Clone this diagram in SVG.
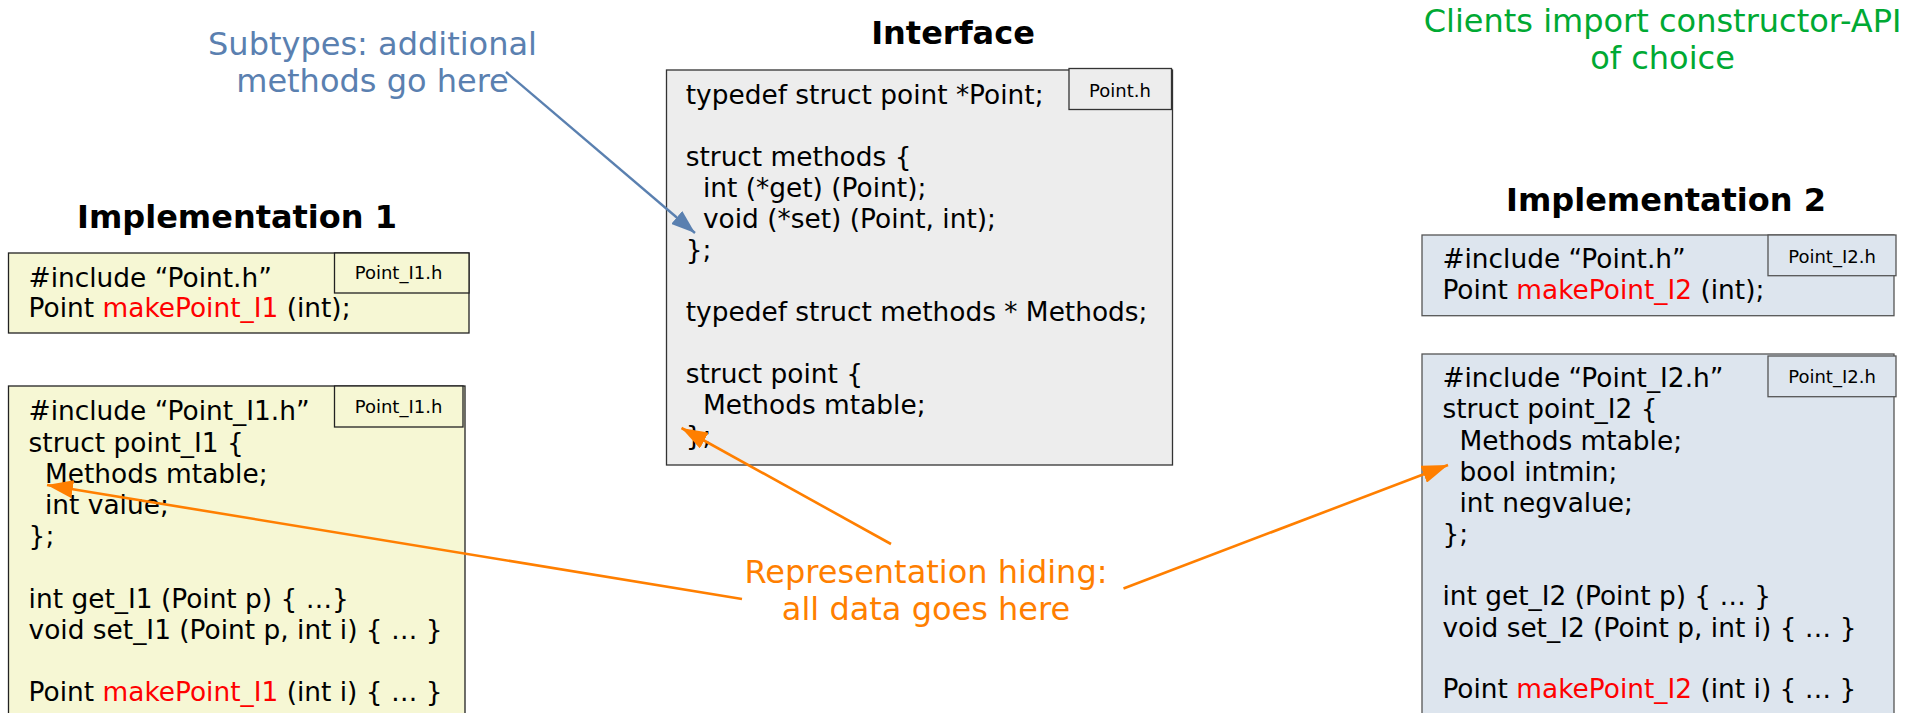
<svg xmlns="http://www.w3.org/2000/svg" width="1919" height="713" viewBox="0 0 1919 713">
<style>
.code{font-family:"DejaVu Sans","Liberation Sans",sans-serif;font-size:26.4px;fill:#000}
.tab{font-family:"DejaVu Sans","Liberation Sans",sans-serif;font-size:18px;fill:#000;text-anchor:middle}
.title{font-family:"DejaVu Sans","Liberation Sans",sans-serif;font-size:32px;font-weight:bold;fill:#000;text-anchor:middle}
.note{font-family:"DejaVu Sans","Liberation Sans",sans-serif;font-size:32px;text-anchor:middle}
.red{fill:#ff0000}
.yel{fill:#f6f7d4;stroke:#222;stroke-width:1.3}
.gry{fill:#ededed;stroke:#333;stroke-width:1.3}
.blu{fill:#dde5ee;stroke:#555;stroke-width:1.3}
</style>
<defs>
<marker id="ho" markerUnits="userSpaceOnUse" markerWidth="26" markerHeight="18" refX="26" refY="9" orient="auto"><path d="M0,0 L26,9 L0,18 z" fill="#ff7f00"/></marker>
<marker id="hb" markerUnits="userSpaceOnUse" markerWidth="24" markerHeight="17" refX="24" refY="8.5" orient="auto"><path d="M0,0 L24,8.5 L0,17 z" fill="#5a80b0"/></marker>
</defs>
<rect width="1919" height="713" fill="#fff"/>

<g id="labels">
<text class="note" fill="#5a80b0"><tspan x="372.5" y="55">Subtypes: additional</tspan><tspan x="372.5" y="91.7">methods go here</tspan></text>
<text class="note" fill="#00a933"><tspan x="1662.5" y="31.7">Clients import constructor-API</tspan><tspan x="1662.5" y="69">of choice</tspan></text>
<text class="note" fill="#ff7f00"><tspan x="926" y="582.7">Representation hiding:</tspan><tspan x="926" y="620">all data goes here</tspan></text>
<text class="title" x="953" y="44">Interface</text>
<text class="title" x="237" y="227.7">Implementation 1</text>
<text class="title" x="1666" y="210.7">Implementation 2</text>
</g>

<g id="interface">
<rect class="gry" x="666.5" y="70" width="506" height="395"/>
<rect class="gry" x="1069" y="68.5" width="102.5" height="41"/>
<text class="tab" x="1120" y="96.7">Point.h</text>
<text class="code" x="685.7" y="104">typedef struct point *Point;</text>
<text class="code" x="685.7" y="166">struct methods {</text>
<text class="code" x="703" y="197">int (*get) (Point);</text>
<text class="code" x="703" y="228">void (*set) (Point, int);</text>
<text class="code" x="685.7" y="259">};</text>
<text class="code" x="685.7" y="321">typedef struct methods * Methods;</text>
<text class="code" x="685.7" y="383">struct point {</text>
<text class="code" x="703" y="414">Methods mtable;</text>
<text class="code" x="685.7" y="445">};</text>
</g>

<g id="impl1-header">
<rect class="yel" x="8.5" y="253" width="460.5" height="80"/>
<rect class="yel" x="334.5" y="253" width="134.5" height="40"/>
<text class="tab" x="398.5" y="279.3">Point_I1.h</text>
<text class="code" x="28.6" y="286.7">#include “Point.h”</text>
<text class="code" x="28.6" y="316.7">Point <tspan class="red">makePoint_I1</tspan> (int);</text>
</g>

<g id="impl1-body">
<rect class="yel" x="8.5" y="386" width="456.5" height="340"/>
<rect class="yel" x="334.5" y="386" width="128.5" height="41"/>
<text class="tab" x="398.5" y="412.7">Point_I1.h</text>
<text class="code" x="28.6" y="420">#include “Point_I1.h”</text>
<text class="code" x="28.6" y="451.5">struct point_I1 {</text>
<text class="code" x="45" y="482.5">Methods mtable;</text>
<text class="code" x="45" y="513.5">int value;</text>
<text class="code" x="28.6" y="545">};</text>
<text class="code" x="28.6" y="607.5">int get_I1 (Point p) { …}</text>
<text class="code" x="28.6" y="638.5">void set_I1 (Point p, int i) { … }</text>
<text class="code" x="28.6" y="700.5">Point <tspan class="red">makePoint_I1</tspan> (int i) { … }</text>
</g>

<g id="impl2-header">
<rect class="blu" x="1422" y="235" width="472" height="80.7"/>
<rect class="blu" x="1768" y="235" width="128" height="40.7"/>
<text class="tab" x="1832" y="263.3">Point_I2.h</text>
<text class="code" x="1442.4" y="268.3">#include “Point.h”</text>
<text class="code" x="1442.4" y="299">Point <tspan class="red">makePoint_I2</tspan> (int);</text>
</g>

<g id="impl2-body">
<rect class="blu" x="1422" y="354" width="472" height="370"/>
<rect class="blu" x="1768" y="356" width="128" height="40.7"/>
<text class="tab" x="1832" y="383.3">Point_I2.h</text>
<text class="code" x="1442.4" y="386.7">#include “Point_I2.h”</text>
<text class="code" x="1442.4" y="418">struct point_I2 {</text>
<text class="code" x="1459.5" y="449.5">Methods mtable;</text>
<text class="code" x="1459.5" y="480.7">bool intmin;</text>
<text class="code" x="1459.5" y="511.7">int negvalue;</text>
<text class="code" x="1442.4" y="543">};</text>
<text class="code" x="1442.4" y="605">int get_I2 (Point p) { … }</text>
<text class="code" x="1442.4" y="636.5">void set_I2 (Point p, int i) { … }</text>
<text class="code" x="1442.4" y="698">Point <tspan class="red">makePoint_I2</tspan> (int i) { … }</text>
</g>

<g id="connectors" fill="none">
<path d="M506,72 L695,233" stroke="#5a80b0" stroke-width="2.4" marker-end="url(#hb)"/>
<path d="M742,599 L47,485" stroke="#ff7f00" stroke-width="2.6" marker-end="url(#ho)"/>
<path d="M891,544 L681.5,428" stroke="#ff7f00" stroke-width="2.6" marker-end="url(#ho)"/>
<path d="M1123.5,588.5 L1448,465" stroke="#ff7f00" stroke-width="2.6" marker-end="url(#ho)"/>
</g>
</svg>
